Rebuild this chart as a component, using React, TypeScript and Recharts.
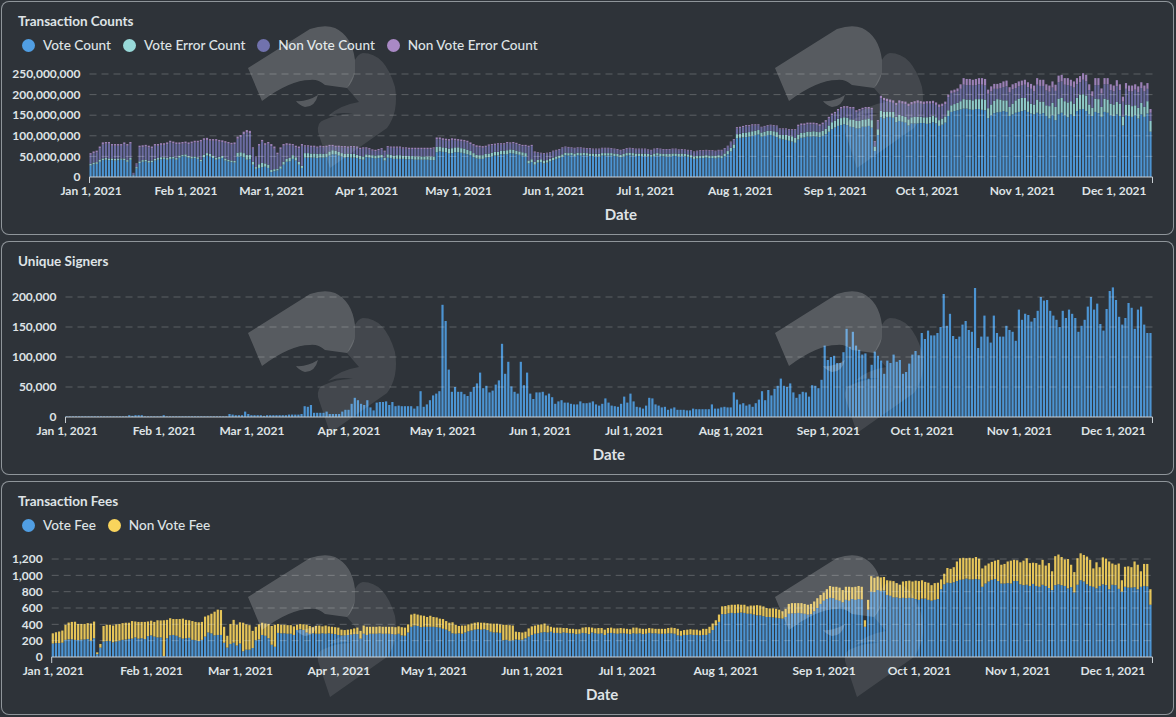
import React from 'react';
import { BarChart, Bar, XAxis, YAxis, ReferenceLine, Legend } from 'recharts';

// daily values, Jan 1 2021 onwards (counts in millions)
const voteCount = [
  28,31,32,37,41,42,41,41,40,41,
  42,41,37,42,4,21,34,37,38,35,
  36,40,42,43,44,42,44,45,42,47,
  50,50,47,45,46,44,38,48,52,50,
  46,42,44,46,40,38,36,35,50,50,
  48,42,43,30,20,22,24,25,22,12,
  14,16,20,30,37,38,44,40,30,22,
  47,47,47,47,46,47,47,48,52,55,
  55,52,50,47,48,47,47,46,43,42,
  48,47,46,45,46,47,40,47,46,44,
  44,44,44,43,43,43,42,42,42,42,
  42,41,41,60,62,61,60,57,58,60,
  60,59,57,55,53,48,45,44,44,47,
  48,50,52,52,55,55,55,58,57,55,
  54,52,50,33,36,30,35,36,33,35,
  38,41,44,46,49,53,52,53,51,53,
  52,53,52,51,51,50,50,52,52,52,
  52,51,50,48,50,52,53,52,51,51,
  51,51,50,49,51,52,51,50,50,50,
  51,51,50,51,50,49,47,44,45,46,
  46,47,46,46,45,47,46,50,55,62,
  70,94,95,96,97,98,100,102,103,98,
  100,102,102,100,97,93,91,90,88,86,
  83,91,95,96,98,98,99,98,97,100,
  104,110,116,120,124,126,128,126,122,121,
  118,118,122,122,124,120,63,102,145,142,
  145,146,144,133,136,134,132,125,130,130,
  130,131,131,129,130,133,130,124,127,132,
  148,158,160,162,164,166,166,164,163,165,
  165,163,162,143,150,155,157,158,160,158,
  148,152,156,158,160,162,158,154,152,156,
  153,155,148,142,150,138,152,156,150,145,
  152,148,160,164,165,160,152,148,158,155,
  146,158,156,150,148,152,148,125,150,148,
  146,150,142,152,146,154,110,
];
const voteErrorCount = [
  4,4,4,5,4,4,4,4,4,4,
  3,4,4,4,1,3,4,4,4,4,
  4,4,4,5,4,4,5,4,4,5,
  4,5,4,4,4,4,4,6,6,6,
  6,5,5,5,5,4,4,4,9,10,
  10,12,11,7,4,9,10,8,8,5,
  5,4,6,7,7,9,9,8,7,5,
  11,11,10,10,10,10,9,9,10,10,
  9,9,8,9,9,9,9,8,8,8,
  7,7,7,7,7,7,7,8,8,8,
  9,9,8,8,8,8,8,8,8,8,
  8,9,9,13,12,11,11,12,12,12,
  12,11,12,11,10,10,9,9,9,9,
  9,9,9,9,9,9,10,9,9,9,
  8,8,8,7,7,7,7,7,7,6,
  6,6,6,6,6,6,6,6,6,6,
  6,6,6,6,6,6,6,6,6,6,
  6,6,6,6,6,6,6,6,6,6,
  6,6,6,5,6,6,6,6,6,6,
  6,6,6,6,6,6,6,6,6,6,
  6,6,6,6,6,6,6,7,8,9,
  9,10,10,11,11,11,11,10,11,10,
  10,10,10,11,12,10,11,12,12,13,
  12,12,12,12,12,12,12,12,12,12,
  13,15,17,17,17,17,17,18,18,18,
  18,18,17,18,18,18,11,14,16,16,
  14,12,14,13,15,14,14,15,15,16,
  16,15,14,16,16,16,15,14,15,15,
  14,16,17,18,20,23,22,24,23,24,
  24,26,26,24,26,30,32,30,26,28,
  22,26,30,32,32,30,26,24,24,32,
  30,28,26,30,30,32,38,36,34,36,
  32,30,32,36,36,38,24,20,32,34,
  24,32,32,28,28,30,30,22,26,28,
  26,24,26,28,24,30,26,
];
const nonVoteCount = [
  22,23,24,28,34,35,36,31,32,31,
  31,35,35,35,4,7,34,32,32,33,
  30,32,30,30,30,34,35,33,34,28,
  27,27,29,33,34,36,44,36,32,32,
  36,41,37,34,38,39,39,41,34,37,
  46,54,52,32,24,45,52,45,51,58,
  50,35,42,39,34,30,24,24,33,49,
  16,16,16,16,15,16,16,16,13,10,
  9,12,14,16,14,16,16,17,17,19,
  14,13,11,11,12,13,14,17,17,19,
  18,18,17,18,17,17,18,18,18,18,
  18,18,19,19,18,18,18,19,20,17,
  16,17,17,18,17,18,19,19,18,17,
  19,18,17,18,15,15,17,14,16,16,
  15,15,17,33,32,22,16,14,16,16,
  14,15,14,14,15,13,13,11,12,11,
  12,10,10,11,10,11,11,11,11,11,
  10,10,10,10,10,10,10,10,10,10,
  10,10,9,10,10,10,10,10,10,10,
  10,10,9,9,9,9,10,10,11,11,
  11,11,11,11,11,11,12,11,11,13,
  11,14,14,14,15,14,14,13,12,12,
  12,12,13,13,14,13,14,14,14,15,
  19,20,19,18,18,18,17,17,15,16,
  17,17,17,17,20,23,23,24,26,27,
  22,25,25,26,24,26,11,19,30,28,
  25,24,22,28,29,30,31,32,31,32,
  34,32,32,33,32,30,30,32,30,30,
  32,30,28,28,30,35,35,35,36,34,
  36,35,34,35,32,29,25,28,32,34,
  36,35,30,30,30,32,34,36,32,36,
  38,38,36,35,37,39,40,40,40,42,
  37,39,33,30,35,34,35,28,33,34,
  33,35,37,33,32,38,33,36,38,32,
  36,38,38,36,38,30,20,
];
const nonVoteErrorCount = [
  4,4,4,4,5,4,4,4,4,4,
  4,4,4,4,1,2,4,4,4,4,
  4,4,4,4,4,4,4,4,4,4,
  4,4,4,4,4,4,4,4,5,4,
  4,4,4,4,4,4,4,4,5,5,
  6,6,6,3,2,4,4,4,4,5,
  5,4,4,4,4,4,3,4,4,4,
  3,3,3,3,3,3,3,3,3,3,
  3,3,3,3,3,3,3,3,3,3,
  3,3,3,3,3,3,3,3,3,3,
  3,3,3,3,3,3,3,3,3,3,
  3,3,3,4,4,4,4,4,4,4,
  4,4,4,4,4,4,4,4,4,3,
  3,3,3,3,3,3,3,3,3,3,
  3,3,3,3,3,3,2,2,2,2,
  2,2,2,2,2,2,2,2,2,2,
  2,2,2,2,2,2,2,2,2,2,
  2,2,2,2,2,2,2,2,2,2,
  2,2,2,2,2,2,2,2,2,2,
  2,2,2,2,2,2,2,2,2,2,
  2,2,2,2,2,2,2,2,2,2,
  2,3,3,3,3,3,3,3,2,2,
  2,2,2,2,2,2,2,2,2,2,
  2,4,4,4,4,4,4,4,4,4,
  4,4,4,4,4,4,4,4,4,4,
  4,4,4,4,4,4,2,3,6,6,
  6,6,6,6,6,6,6,6,6,6,
  6,6,6,6,6,6,6,6,6,6,
  6,6,7,7,11,16,15,15,14,15,
  15,16,16,10,12,12,12,12,14,14,
  12,12,12,12,12,12,12,12,14,16,
  15,15,15,15,15,15,16,16,16,17,
  15,15,15,15,16,16,14,12,17,17,
  12,15,15,14,14,15,14,12,14,14,
  14,13,14,14,14,14,9,
];

// in thousands
const uniqueSigners = [
  1,1,1,1,1,1,1,1,1,1,
  1,1,1,1,1,1,1,1,1,1,
  3,2,3,3,3,1,1,1,1,1,
  1,3,1,1,1,1,1,1,1,1,
  1,1,1,1,1,1,1,1,1,1,
  1,1,5,4,3,3,3,9,5,3,
  3,3,3,2,3,3,3,3,3,3,
  3,4,4,4,4,5,18,17,20,7,
  7,7,7,9,5,5,5,5,9,12,
  12,22,32,28,22,20,28,16,11,24,
  25,25,26,20,25,18,19,18,18,18,
  18,14,18,43,17,21,28,36,39,43,
  187,160,79,42,50,42,42,38,35,42,
  50,56,74,48,52,41,44,54,61,122,
  72,92,51,42,39,92,53,74,39,30,
  41,41,42,36,39,33,22,26,28,24,
  24,22,21,21,26,23,23,24,26,21,
  19,22,31,24,19,18,17,22,34,24,
  39,26,17,16,14,19,32,31,21,19,
  16,17,12,14,16,12,12,12,11,11,
  14,13,13,13,13,13,21,14,14,16,
  17,16,16,41,29,21,23,19,21,17,
  23,29,43,28,45,36,47,52,64,52,
  50,56,41,32,38,42,41,34,53,52,
  48,62,119,95,100,102,90,90,108,147,
  117,142,119,112,104,106,64,87,109,102,
  94,72,94,90,104,92,95,72,75,89,
  104,110,103,140,130,144,136,136,140,150,
  205,152,172,135,130,134,154,160,145,142,
  215,115,134,169,134,124,169,140,134,134,
  152,145,142,127,179,162,172,170,159,165,
  177,200,194,195,177,169,162,150,177,165,
  179,172,165,142,152,162,184,200,179,189,
  155,144,180,210,216,195,167,154,165,190,
  182,147,179,184,154,140,140,
];

const voteFee = [
  165,170,170,175,210,217,217,210,208,212,
  215,220,200,230,35,115,190,195,195,180,
  190,200,210,215,222,225,240,225,230,220,
  255,265,250,240,240,10,230,265,270,260,
  240,225,230,235,210,205,195,210,250,300,
  290,265,270,270,175,115,160,175,140,165,
  70,90,90,110,205,215,270,260,230,150,
  125,295,290,290,285,285,270,330,340,330,
  300,285,290,285,285,290,285,290,285,280,
  270,265,265,270,275,280,280,225,285,270,
  285,285,285,290,285,285,285,280,275,285,
  265,260,300,370,385,380,365,370,370,370,
  370,365,360,345,335,315,290,285,290,285,
  300,315,325,335,340,335,340,330,310,300,
  300,295,205,210,200,205,215,210,212,230,
  250,270,285,290,300,305,300,310,295,295,
  290,300,295,290,290,280,285,295,290,280,
  300,290,285,290,270,290,295,290,285,290,
  290,285,280,290,285,290,280,285,295,290,
  290,285,285,285,290,290,285,265,260,270,
  270,275,270,270,265,270,270,290,330,385,
  430,525,525,535,540,535,540,545,540,530,
  530,520,510,510,500,490,490,485,480,475,
  470,490,530,535,535,540,535,530,520,525,
  560,600,650,690,710,725,720,700,690,670,
  700,690,710,700,710,705,370,580,800,795,
  820,810,815,760,750,730,730,720,725,720,
  725,720,710,700,715,715,700,690,700,710,
  830,890,910,905,915,930,945,950,960,950,
  950,955,950,860,900,925,945,955,930,900,
  900,905,900,930,930,890,880,885,870,895,
  870,860,885,870,845,820,880,890,880,870,
  840,855,790,885,940,925,890,870,860,840,
  870,890,880,830,885,880,835,800,860,850,
  850,855,830,860,870,865,640,
];
const nonVoteFee = [
  125,133,142,149,184,205,213,222,197,193,
  190,195,210,204,22,45,190,200,200,205,
  210,205,205,205,198,215,195,205,200,210,
  180,180,180,210,208,440,225,210,195,205,
  225,245,225,215,230,225,230,220,245,210,
  240,290,310,305,195,145,245,280,255,260,
  350,310,300,210,165,185,150,150,175,230,
  270,110,105,105,105,105,105,65,65,70,
  95,95,75,95,100,85,100,85,85,85,
  90,70,65,65,65,70,80,95,100,100,
  85,85,85,85,85,85,85,90,90,90,
  100,100,100,150,145,140,145,135,120,135,
  120,120,110,120,105,105,135,110,90,100,
  85,85,85,85,85,85,80,85,100,108,
  108,105,190,185,190,180,95,95,88,80,
  100,105,100,105,100,105,85,60,65,65,
  70,55,60,55,55,60,55,65,75,85,
  60,60,70,65,65,65,65,60,65,65,
  60,60,60,70,75,60,65,60,60,60,
  55,60,60,60,65,70,70,80,60,60,
  65,65,65,65,60,75,75,80,80,65,
  90,95,100,100,100,105,105,95,100,90,
  100,110,125,120,120,110,105,110,110,105,
  90,100,120,125,125,120,125,120,120,125,
  120,120,110,100,120,145,140,160,160,150,
  160,170,145,160,160,155,80,120,190,175,
  165,165,165,180,185,200,175,165,200,210,
  210,205,225,230,225,205,210,190,205,200,
  120,130,180,175,185,240,265,265,250,265,
  260,270,255,225,220,220,220,225,260,230,
  240,265,280,260,255,270,300,325,280,260,
  280,270,305,250,305,230,355,365,345,325,
  360,275,250,325,330,325,340,320,225,320,
  230,330,325,340,260,250,310,140,245,260,
  250,315,300,190,270,275,190,
];

const monthTicks = ['Jan 1, 2021','Feb 1, 2021','Mar 1, 2021','Apr 1, 2021','May 1, 2021','Jun 1, 2021','Jul 1, 2021','Aug 1, 2021','Sep 1, 2021','Oct 1, 2021','Nov 1, 2021','Dec 1, 2021'];
const countTicks = [0, 50000000, 100000000, 150000000, 200000000, 250000000];
const signerTicks = [0, 50000, 100000, 150000, 200000];
const feeTicks = [0, 200, 400, 600, 800, 1000, 1200];

const blue = '#509EE3';
const teal = '#98D9D9';
const indigo = '#7172AD';
const lilac = '#A989C5';
const yellow = '#F9D45C';
const textColor = '#dfe3e6';
const font = 'Lato, sans-serif';

const dates = voteCount.map((_, i) =>
  new Date(Date.UTC(2021, 0, 1 + i)).toLocaleDateString('en-US', { month: 'short', day: 'numeric', year: 'numeric', timeZone: 'UTC' })
);
const lastDate = dates[dates.length - 1];

const countRows = dates.map((date, i) => ({
  date,
  'Vote Count': voteCount[i] * 1000000,
  'Vote Error Count': voteErrorCount[i] * 1000000,
  'Non Vote Count': nonVoteCount[i] * 1000000,
  'Non Vote Error Count': nonVoteErrorCount[i] * 1000000,
}));
const signerRows = dates.map((date, i) => ({ date, 'Unique Signers': uniqueSigners[i] * 1000 }));
const feeRows = dates.map((date, i) => ({ date, 'Vote Fee': voteFee[i], 'Non Vote Fee': nonVoteFee[i] }));

const DateTick = ({ x, y, payload, band }: any) => {
  const isFirst = payload.value === dates[0];
  const isLast = payload.value === lastDate;
  return (
    <g>
      {isFirst && <line x1={x - band / 2} x2={x - band / 2} y1={y} y2={y + 6} stroke="#c9ced2" />}
      {isLast && <line x1={x + band / 2} x2={x + band / 2} y1={y} y2={y + 6} stroke="#c9ced2" />}
      {!isLast && (
        <text x={x} y={y + 18} textAnchor="middle" fill={textColor} fontFamily={font} fontSize={12} fontWeight={700}>
          {payload.value}
        </text>
      )}
    </g>
  );
};

const LegendRow = ({ payload }: any) => (
  <div style={{ display: 'flex', fontFamily: font, fontSize: 13.6, fontWeight: 500, color: textColor, lineHeight: '18px' }}>
    {payload.map((item: any) => (
      <div key={item.value} style={{ display: 'flex', alignItems: 'center', marginRight: 12, whiteSpace: 'nowrap' }}>
        <span style={{ width: 13, height: 13, borderRadius: '50%', background: item.color, marginRight: 8 }} />
        {item.value}
      </div>
    ))}
  </div>
);

const Panel = ({ title, top, rows, series, ticks, domainMax, plotLeft, plotTop, hasLegend }: any) => {
  const plotRight = 1151.5;
  const band = (plotRight - plotLeft) / rows.length;
  return (
    <div style={{ position: 'absolute', left: 1, top, width: 1173, height: 234, borderRadius: 8, boxShadow: 'inset 0 0 0 1px #8f959a' }}>
      <div style={{ position: 'absolute', left: 17, top: 11, fontFamily: font, fontSize: 13.5, fontWeight: 700, color: textColor, lineHeight: '18px' }}>
        {title}
      </div>
      <BarChart
        width={1173}
        height={233}
        data={rows}
        margin={{ top: plotTop, right: 1173 - plotRight, bottom: 0, left: 0 }}
        barCategoryGap={0}
      >
        <XAxis
          dataKey="date"
          ticks={[...monthTicks, lastDate]}
          interval={0}
          height={57}
          tickSize={0}
          tickMargin={0}
          tickLine={false}
          axisLine={{ stroke: '#c9ced2' }}
          tick={(p: any) => <DateTick {...p} band={band} />}
          label={{ value: 'Date', position: 'insideBottom', offset: 14, fill: textColor, fontFamily: font, fontSize: 15, fontWeight: 700 }}
        />
        <YAxis
          width={plotLeft}
          domain={[0, domainMax]}
          ticks={ticks}
          interval={0}
          tickSize={0}
          tickMargin={9}
          tickLine={false}
          axisLine={false}
          tickFormatter={(v: number) => v.toLocaleString('en-US')}
          tick={{ fill: textColor, fontFamily: font, fontSize: 12, fontWeight: 700 }}
        />
        {hasLegend && (
          <Legend verticalAlign="middle" itemSorter={null} content={LegendRow} wrapperStyle={{ top: 35, left: 21, width: 'auto' }} />
        )}
        {series.map((s: any) => (
          <Bar key={s.key} dataKey={s.key} stackId="a" fill={s.color} fillOpacity={0.9} barSize={band * 0.7} isAnimationActive={false} />
        ))}
        {ticks.filter((t: number) => t > 0).map((t: number) => (
          <ReferenceLine key={t} y={t} stroke="#ffffff" strokeOpacity={0.22} strokeDasharray="7 5" />
        ))}
      </BarChart>
    </div>
  );
};

// the faint logo that sits over each chart, twice per panel
const Watermark = ({ x, y }: any) => (
  <g transform={`translate(${x},${y})`}>
    <path d="M8,48 L70,9 Q85,4 95,8 Q112,16 115,40 L115,52 Q113,62 107,68 L85,65 Q78,59 70,60 Q50,60 22,81 Z" fill="#ffffff" fillOpacity={0.2} />
    <path d="M56,81 Q67,82 78,75 Q75,87 65,87 Q59,85 56,81 Z" fill="#ffffff" fillOpacity={0.2} />
    <path d="M115,40 Q118,34 123,33 Q145,33 155,67 Q159,92 147,108 L90,148 L78,112 Q77,102 84,100 Q97,93.5 113,94 Q100,91 88,96 Q100,85 119,82 L107,68 L115,52 Z" fill="#ffffff" fillOpacity={0.1} />
  </g>
);

const App = () => {
  return (
    <div style={{ position: 'absolute', left: 0, top: 0, width: 1176, height: 717, background: '#2e3339', overflow: 'hidden' }}>
      <Panel
        title="Transaction Counts"
        top={1}
        rows={countRows}
        series={[
          { key: 'Vote Count', color: blue },
          { key: 'Vote Error Count', color: teal },
          { key: 'Non Vote Count', color: indigo },
          { key: 'Non Vote Error Count', color: lilac },
        ]}
        ticks={countTicks}
        domainMax={300000000}
        plotLeft={88.5}
        plotTop={52.4}
        hasLegend
      />
      <Panel
        title="Unique Signers"
        top={241}
        rows={signerRows}
        series={[{ key: 'Unique Signers', color: blue }]}
        ticks={signerTicks}
        domainMax={250000}
        plotLeft={64.5}
        plotTop={26}
      />
      <Panel
        title="Transaction Fees"
        top={481}
        rows={feeRows}
        series={[
          { key: 'Vote Fee', color: blue },
          { key: 'Non Vote Fee', color: yellow },
        ]}
        ticks={feeTicks}
        domainMax={1400}
        plotLeft={50.7}
        plotTop={61.7}
        hasLegend
      />
      <svg width={1176} height={717} style={{ position: 'absolute', left: 0, top: 0, pointerEvents: 'none' }}>
        {[20, 285, 549].map((y) =>
          [240, 767].map((x) => <Watermark key={`${x}-${y}`} x={x} y={y} />)
        )}
      </svg>
    </div>
  );
};

export default App;
